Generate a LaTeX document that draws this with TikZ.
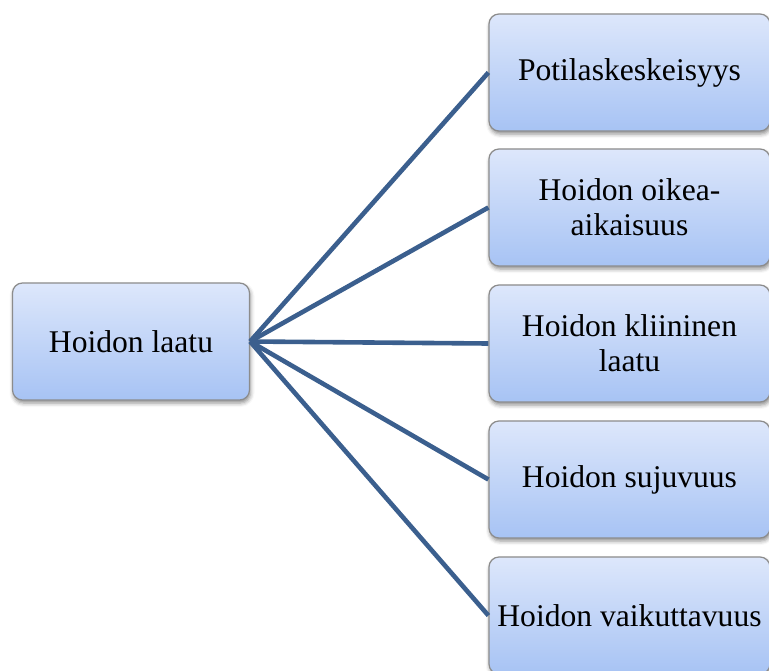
\documentclass[tikz,border=0pt]{standalone}
\usepackage{fontspec}
\setmainfont{Liberation Serif}
\usetikzlibrary{shadows.blur}
\definecolor{boxtop}{HTML}{DDE7FB}
\definecolor{boxbot}{HTML}{A7C3F4}
\definecolor{boxedge}{HTML}{8C8C8C}
\definecolor{linkcol}{HTML}{3B5F8E}
\begin{document}
\begin{tikzpicture}[x=1pt,y=-1pt,
  box/.style={draw=boxedge, line width=1.2pt, rounded corners=10pt,
    top color=boxtop, bottom color=boxbot,
    blur shadow={shadow xshift=1pt, shadow yshift=-3pt, shadow blur radius=4pt, shadow opacity=45},
    align=center, font=\fontsize{31.6}{35}\selectfont, inner sep=0pt},
  leftbox/.style={box, minimum width=237pt, minimum height=117pt},
  rightbox/.style={box, minimum width=281pt, minimum height=117pt},
  link/.style={draw=linkcol, line width=4.6pt}]
\useasboundingbox (0,0) rectangle (769,670);
% root and its five aspects
\node[leftbox]  (root) at (131,341.5) {Hoidon laatu};
\node[rightbox] (a1) at (629.5,72.5)  {Potilaskeskeisyys};
\node[rightbox] (a2) at (629.5,207.5) {Hoidon oikea-\\aikaisuus};
\node[rightbox] (a3) at (629.5,343.5) {Hoidon kliininen\\laatu};
\node[rightbox] (a4) at (629.5,479.5) {Hoidon sujuvuus};
\node[rightbox] (a5) at (629.5,615.5) {Hoidon vaikuttavuus};
% fan of links from the root
\foreach \n in {a1,a2,a3,a4,a5}
  \draw[link] (root.east) -- (\n.west);
\end{tikzpicture}
\end{document}
